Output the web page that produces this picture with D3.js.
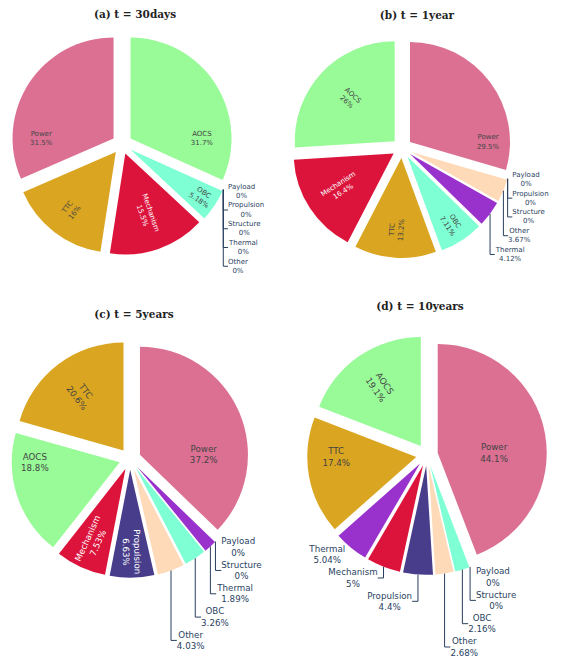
<!DOCTYPE html>
<html><head><meta charset="utf-8">
<script src="https://cdn.jsdelivr.net/npm/d3@7"></script>
<style>body{margin:0;background:#fff} svg{display:block}</style>
</head><body>
<svg id="chart" width="561" height="669"></svg>
<script>
// ---------- data ----------
const titles = ["(a) t = 30days", "(b) t = 1year", "(c) t = 5years", "(d) t = 10years"];

const labelsA = ["AOCS", "Payload", "Propulsion", "Structure", "Thermal", "Other", "OBC", "Mechanism", "TTC", "Power"];
const valuesA = [31.7, 0, 0, 0, 0, 0, 5.18, 15.5, 16, 31.5];

const labelsB = ["Power", "Payload", "Propulsion", "Structure", "Other", "Thermal", "OBC", "TTC", "Mechanism", "AOCS"];
const valuesB = [29.5, 0, 0, 0, 3.67, 4.12, 7.11, 13.2, 16.4, 26];

const labelsC = ["Power", "Payload", "Structure", "Thermal", "OBC", "Other", "Propulsion", "Mechanism", "AOCS", "TTC"];
const valuesC = [37.2, 0, 0, 1.89, 3.26, 4.03, 6.63, 7.53, 18.8, 20.6];

const labelsD = ["Power", "Payload", "Structure", "OBC", "Other", "Propulsion", "Mechanism", "Thermal", "TTC", "AOCS"];
const valuesD = [44.1, 0, 0, 2.16, 2.68, 4.4, 5, 5.04, 17.4, 19.1];

const colorOf = {
  Power: "#DB7093", AOCS: "#98FB98", TTC: "#DAA520", Mechanism: "#DC143C",
  OBC: "#7FFFD4", Other: "#FFDAB9", Thermal: "#9932CC", Propulsion: "#483D8B",
  Payload: "#636efa", Structure: "#00cc96"
};

// ---------- layout ----------
const panels = [
  {labels: labelsA, values: valuesA, title: titles[0], cx: 122, cy: 144, r: 101, font: 7,   tx: 135, ty: 18},
  {labels: labelsB, values: valuesB, title: titles[1], cx: 402, cy: 148, r: 100, font: 7,   tx: 417, ty: 19},
  {labels: labelsC, values: valuesC, title: titles[2], cx: 130, cy: 459, r: 108, font: 8.7, tx: 134, ty: 318},
  {labels: labelsD, values: valuesD, title: titles[3], cx: 427, cy: 455, r: 109, font: 8.7, tx: 420, ty: 310}
];
const pullFrac = 0.1;
const TEXTPAD = 3;
const outBlockEm = 2.68;   // height of a two-line outside label block, in em
const fmt = d3.format(".3~g");
const textFont = "DejaVu Sans, Verdana, sans-serif";
const outColor = "#2a3f5f";

const svg = d3.select("#chart");

function brightness(c) { const k = d3.rgb(c); return (k.r * 299 + k.g * 587 + k.b * 114) / 1000; }
function normRot(rot) { while (rot > 90) rot -= 180; while (rot <= -90) rot += 180; return rot; }
function maxHalf(a, half, r) {
  const q = a + 1 / (2 * Math.tan(half));
  return r * Math.min(1 / (Math.sqrt(q * q + 0.5) + q), 1 / (Math.sqrt(a * a + 0.5) + a));
}
function radialT(d, w, h, R) {
  const r = Math.max(0, R - 2 * TEXTPAD);
  const ar = w / h;
  const s = maxHalf(ar, d.half, r);
  return {scale: 2 * s / h, rCenter: Math.cos(s / r) - ar * s / r, rot: normRot(d.mid * 180 / Math.PI - 90), ang: d.mid};
}
function horizT(d, w, h, R) {
  for (const hA of [Math.PI / 2, 3 * Math.PI / 2]) {
    if (hA > d.startAngle && hA < d.endAngle) {
      const m = Math.min(hA - d.startAngle, d.endAngle - hA, Math.PI / 2);
      const rIns = Math.min(1 / (1 + 1 / Math.sin(m)), 0.5);
      return {scale: rIns * R * 2 / Math.hypot(w, h), rCenter: 1 - rIns, rot: 0, ang: hA};
    }
  }
  return null;
}

panels.forEach(P => {
  svg.append("text")
    .attr("x", P.tx).attr("y", P.ty)
    .attr("text-anchor", "middle")
    .attr("font-family", "DejaVu Serif, serif")
    .attr("font-weight", "bold")
    .attr("font-size", 10.5)
    .attr("fill", "#222")
    .text(P.title);

  const data = P.labels.map((l, i) => ({label: l, v: P.values[i]}));
  const arcs = d3.pie().sort(null).value(d => d.v)(data);
  const pull = P.r * pullFrac;
  arcs.forEach(a => {
    a.mid = (a.startAngle + a.endAngle) / 2;
    a.half = (a.endAngle - a.startAngle) / 2;
    a.ox = pull * Math.sin(a.mid);
    a.oy = -pull * Math.cos(a.mid);
  });

  const g = svg.append("g").attr("transform", `translate(${P.cx},${P.cy})`);
  const arcGen = d3.arc().innerRadius(0).outerRadius(P.r);
  g.selectAll("path.slice").data(arcs).join("path")
    .attr("class", "slice")
    .attr("d", arcGen)
    .attr("transform", d => `translate(${d.ox},${d.oy})`)
    .attr("fill", d => colorOf[d.data.label]);

  const lineG = g.append("g");
  const outs = [];
  arcs.forEach(a => {
    const t = g.append("text")
      .attr("font-family", textFont)
      .attr("font-size", P.font)
      .attr("text-anchor", "middle");
    t.append("tspan").attr("x", 0).attr("y", -0.3 * P.font).text(a.data.label);
    t.append("tspan").attr("x", 0).attr("y", 1.0 * P.font).text(fmt(a.data.v) + "%");
    const bb = t.node().getBBox();
    const w = bb.width, h = bb.height, bcx = bb.x + w / 2, bcy = bb.y + h / 2;
    let best = null;
    if (a.data.v > 0) {
      const hz = horizT(a, w, h, P.r);
      if (hz && hz.scale >= 1) best = hz;
      else {
        const rd = radialT(a, w, h, P.r);
        best = (hz && hz.scale > rd.scale) ? hz : rd;
      }
    }
    if (best && best.scale >= 1) {
      const x = a.ox + P.r * best.rCenter * Math.sin(best.ang);
      const y = a.oy - P.r * best.rCenter * Math.cos(best.ang);
      t.attr("fill", brightness(colorOf[a.data.label]) >= 128 ? "#444" : "#fff")
        .attr("transform", `translate(${x},${y}) rotate(${best.rot}) translate(${-bcx},${-bcy})`);
    } else {
      outs.push({a, t, w, h: outBlockEm * P.font, bcx, bcy});
    }
  });

  outs.forEach(o => {
    const a = o.a;
    const px = P.r * Math.sin(a.mid), py = -P.r * Math.cos(a.mid);
    o.ax = a.ox + px; o.ay = a.oy + py;
    o.sx = px < 0 ? -1 : 1; o.sy = py < 0 ? -1 : 1;
    o.x = o.ax + o.sx * (o.w / 2 + o.h / 4);
    o.y0 = o.ay + o.sy * (o.h / 2) * (py * py / (px * px + py * py));
    o.y = o.y0;
  });
  [1, -1].forEach(sx => [1, -1].forEach(sy => {
    const grp = outs.filter(o => o.sx === sx && o.sy === sy);
    grp.sort((p, q) => (Math.abs(Math.cos(p.a.mid)) - Math.abs(Math.cos(q.a.mid))) || (p.a.index - q.a.index));
    for (let i = 1; i < grp.length; i++) {
      const prev = grp[i - 1], cur = grp[i];
      if (sy > 0) { const m = prev.y + prev.h / 2 + cur.h / 2; if (cur.y < m) cur.y = m; }
      else { const m = prev.y - prev.h / 2 - cur.h / 2; if (cur.y > m) cur.y = m; }
    }
  }));
  outs.forEach(o => {
    o.t.attr("fill", outColor)
      .attr("transform", `translate(${o.x - o.bcx},${o.y - o.bcy})`);
    if (Math.abs(o.y - o.y0) > 0.01) {
      lineG.append("path")
        .attr("d", `M${o.ax},${o.ay}V${o.y}h${o.sx * o.h / 4}`)
        .attr("fill", "none")
        .attr("stroke", outColor)
        .attr("stroke-width", 1);
    }
  });
});
</script>
</body></html>
